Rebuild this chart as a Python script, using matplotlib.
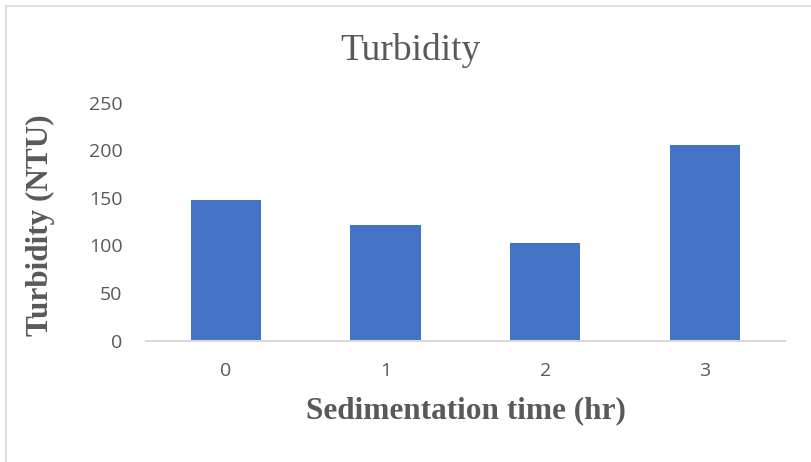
import matplotlib
matplotlib.use('Agg')
import matplotlib.pyplot as plt
from matplotlib.lines import Line2D

# data
hours = ['0', '1', '2', '3']
turbidity = [148, 122, 103, 206]

bar_color = '#4472C4'
text_gray = '#595959'
line_gray = '#D9D9D9'

fig = plt.figure(figsize=(8.12, 4.62), dpi=100)
ax = fig.add_axes([0.1798, 0.2626, 0.7869, 0.5151])

x = range(len(hours))
ax.bar(x, turbidity, width=0.44, color=bar_color, edgecolor='none', zorder=2)

ax.set_xlim(-0.5, len(hours) - 0.5)
ax.set_ylim(0, 250)
ax.set_yticks([0, 50, 100, 150, 200, 250])
ax.set_xticks(list(x))
ax.set_xticklabels(hours)

for side in ['top', 'right', 'left']:
    ax.spines[side].set_visible(False)
ax.spines['bottom'].set_color(line_gray)
ax.spines['bottom'].set_linewidth(1.5)
ax.spines['bottom'].set_zorder(3)

ax.tick_params(axis='both', length=0, labelcolor=text_gray, labelsize=14)
ax.tick_params(axis='y', pad=17)
ax.tick_params(axis='x', pad=15)
for lab in ax.get_xticklabels() + ax.get_yticklabels():
    lab.set_fontfamily('Open Sans')

fig.text(0.506, 0.890, 'Turbidity', ha='center', va='center',
         fontsize=27, color=text_gray, family='Liberation Serif')
fig.text(0.574, 0.110, 'Sedimentation time (hr)', ha='center', va='center',
         fontsize=22.5, fontweight='bold', color=text_gray, family='Liberation Serif')
fig.text(0.050, 0.513, 'Turbidity (NTU)', ha='center', va='center', rotation=90,
         fontsize=22.5, fontweight='bold', color=text_gray, family='Liberation Serif')

# chart frame, only top and left edges show in the crop
fig.add_artist(Line2D([0.0068, 1.0], [0.988, 0.988], color=line_gray, lw=1.2))
fig.add_artist(Line2D([0.0068, 0.0068], [0.0, 0.988], color=line_gray, lw=1.2))

fig.savefig('out.png', dpi=100)
